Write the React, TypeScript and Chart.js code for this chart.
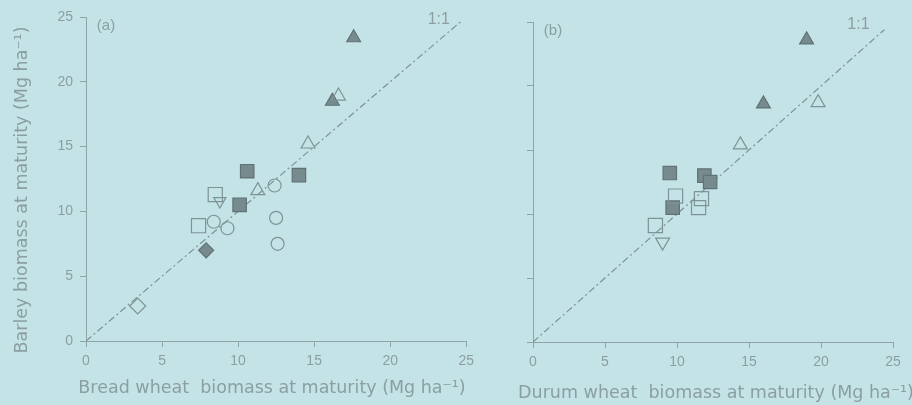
import React, { useEffect, useRef } from "react";
import { Chart, registerables } from "chart.js";
Chart.register(...registerables);

// ---------- data ----------
const AXIS_MIN = 0;
const AXIS_MAX = 25;
const AXIS_STEP = 5;

// Panel (a): bread wheat vs barley
const A_filledTriX = [17.6, 16.2];
const A_filledTriY = [23.4, 18.5];
const A_openTriX = [16.6, 14.6, 11.3];
const A_openTriY = [18.9, 15.2, 11.6];
const A_filledSqX = [10.6, 14.0, 10.1];
const A_filledSqY = [13.1, 12.8, 10.5];
const A_openSqX = [8.5, 7.4];
const A_openSqY = [11.3, 8.9];
const A_openDownTriX = [8.8];
const A_openDownTriY = [10.8];
const A_openCircX = [12.4, 8.4, 9.3, 12.5, 12.6];
const A_openCircY = [12.0, 9.2, 8.7, 9.5, 7.5];
const A_filledDiamX = [7.9];
const A_filledDiamY = [7.0];
const A_openDiamX = [3.4];
const A_openDiamY = [2.7];
const A_lineX = [0, 24.7];
const A_lineY = [0, 24.7];

// Panel (b): durum wheat vs barley
const B_filledTriX = [19.0, 16.0];
const B_filledTriY = [23.6, 18.6];
const B_openTriX = [19.8, 14.4];
const B_openTriY = [18.7, 15.4];
const B_filledSqX = [9.5, 11.9, 12.3, 9.7];
const B_filledSqY = [13.2, 13.0, 12.5, 10.5];
const B_openSqX = [9.9, 11.7, 11.5, 8.5];
const B_openSqY = [11.4, 11.2, 10.5, 9.1];
const B_openDownTriX = [9.0];
const B_openDownTriY = [7.8];
const B_lineX = [0, 24.4];
const B_lineY = [0, 24.4];

const Y_TITLE = "Barley biomass at maturity (Mg ha\u207B\u00B9)";
const A_X_TITLE = "Bread wheat  biomass at maturity (Mg ha\u207B\u00B9)";
const B_X_TITLE = "Durum wheat  biomass at maturity (Mg ha\u207B\u00B9)";

// ---------- styles ----------
const BG = "#c4e3e7";
const TEXT = "#8b9fa3";
const AXIS = "#8ea4a8";
const FILL = "#778b8f";
const FILL_BORDER = "#5f7276";
const OPEN = "#7e9397";
const FONT = "'Liberation Sans', Arial, sans-serif";
const TITLE_FONT = "'DejaVu Sans', sans-serif";

const pts = (xs: number[], ys: number[]) => xs.map((x, i) => ({ x, y: ys[i] }));

type Marker = {
  xs: number[];
  ys: number[];
  style: string;
  filled: boolean;
  r: number;
  rot?: number;
};

function makeDatasets(markers: Marker[], lx: number[], ly: number[]) {
  const ds: any[] = [
    {
      type: "line",
      data: pts(lx, ly),
      borderColor: "#7d9296",
      borderWidth: 1.2,
      borderDash: [7, 3, 2, 3],
      pointRadius: 0,
      fill: false,
      order: 10,
    },
  ];
  markers.forEach((m) => {
    ds.push({
      type: "scatter",
      data: pts(m.xs, m.ys),
      pointStyle: m.style,
      pointRadius: m.r,
      pointRotation: m.rot || 0,
      backgroundColor: m.filled ? FILL : "rgba(0,0,0,0)",
      borderColor: m.filled ? FILL_BORDER : OPEN,
      borderWidth: 1.2,
      order: 1,
    });
  });
  return ds;
}

function textPlugin(kind: "a" | "b") {
  return {
    id: "texts" + kind,
    afterDraw(chart: any) {
      const { ctx, chartArea, scales } = chart;
      const x = scales.x;
      const y = scales.y;
      ctx.save();
      ctx.fillStyle = TEXT;
      ctx.textAlign = "center";
      ctx.textBaseline = "middle";
      // panel label
      ctx.font = `15px ${FONT}`;
      ctx.fillText(kind === "a" ? "(a)" : "(b)", chartArea.left + 20, chartArea.top + 9);
      // 1:1 label
      ctx.font = `16px ${FONT}`;
      ctx.fillText("1:1", x.getPixelForValue(kind === "a" ? 23.2 : 22.6), y.getPixelForValue(24.8));
      // x title
      ctx.font = `17.5px ${TITLE_FONT}`;
      ctx.fillText(
        kind === "a" ? A_X_TITLE : B_X_TITLE,
        kind === "a" ? 272 - 0 : 716 - 480,
        chartArea.bottom + (kind === "a" ? 47 : 51)
      );
      if (kind === "a") {
        ctx.translate(22, 190);
        ctx.rotate(-Math.PI / 2);
        ctx.fillText(Y_TITLE, 0, 0);
      }
      ctx.restore();
    },
  };
}

function makeConfig(kind: "a" | "b"): any {
  const isA = kind === "a";
  const markers: Marker[] = isA
    ? [
        { xs: A_openCircX, ys: A_openCircY, style: "circle", filled: false, r: 6.5 },
        { xs: A_openSqX, ys: A_openSqY, style: "rect", filled: false, r: 10 },
        { xs: A_openDownTriX, ys: A_openDownTriY, style: "triangle", filled: false, r: 7, rot: 180 },
        { xs: A_openTriX, ys: A_openTriY, style: "triangle", filled: false, r: 8 },
        { xs: A_openDiamX, ys: A_openDiamY, style: "rectRot", filled: false, r: 8 },
        { xs: A_filledSqX, ys: A_filledSqY, style: "rect", filled: true, r: 9.5 },
        { xs: A_filledTriX, ys: A_filledTriY, style: "triangle", filled: true, r: 8 },
        { xs: A_filledDiamX, ys: A_filledDiamY, style: "rectRot", filled: true, r: 7.5 },
      ]
    : [
        { xs: B_openSqX, ys: B_openSqY, style: "rect", filled: false, r: 10 },
        { xs: B_openDownTriX, ys: B_openDownTriY, style: "triangle", filled: false, r: 8, rot: 180 },
        { xs: B_openTriX, ys: B_openTriY, style: "triangle", filled: false, r: 8 },
        { xs: B_filledSqX, ys: B_filledSqY, style: "rect", filled: true, r: 9.5 },
        { xs: B_filledTriX, ys: B_filledTriY, style: "triangle", filled: true, r: 8 },
      ];

  const axisCommon = {
    type: "linear",
    min: AXIS_MIN,
    max: AXIS_MAX,
    grid: {
      display: true,
      drawOnChartArea: false,
      drawTicks: true,
      tickLength: 6,
      tickColor: AXIS,
      color: AXIS,
    },
    border: { display: true, color: AXIS, width: 1 },
    title: { display: false },
  };

  return {
    type: "scatter",
    data: { datasets: makeDatasets(markers, isA ? A_lineX : B_lineX, isA ? A_lineY : B_lineY) },
    options: {
      responsive: false,
      animation: false,
      events: [],
      layout: {
        padding: isA
          ? { left: 0, right: 9, top: 17, bottom: 0 }
          : { left: 0, right: 19, top: 22, bottom: 0 },
      },
      plugins: {
        legend: { display: false },
        tooltip: { enabled: false },
      },
      scales: {
        x: {
          ...axisCommon,
          position: "bottom",
          ticks: {
            stepSize: AXIS_STEP,
            color: TEXT,
            font: { family: FONT, size: 14 },
            padding: 6,
            maxRotation: 0,
          },
          afterFit: (s: any) => {
            s.height = isA ? 64 : 63;
          },
        },
        y: {
          ...axisCommon,
          position: "left",
          ticks: {
            stepSize: AXIS_STEP,
            color: TEXT,
            font: { family: FONT, size: 14 },
            padding: 7,
            callback: (v: any) => (isA ? String(v) : ""),
          },
          afterFit: (s: any) => {
            s.width = isA ? 86 : 53;
          },
        },
      },
    },
    plugins: [textPlugin(kind)],
  };
}

function Panel({ kind, left, width }: { kind: "a" | "b"; left: number; width: number }) {
  const ref = useRef<HTMLCanvasElement | null>(null);
  useEffect(() => {
    if (!ref.current) return;
    const chart = new Chart(ref.current, makeConfig(kind));
    return () => chart.destroy();
  }, [kind]);
  return (
    <canvas
      ref={ref}
      width={width}
      height={405}
      style={{ position: "absolute", left, top: 0, width, height: 405 }}
    />
  );
}

export default function App() {
  useEffect(() => {
    document.body.style.margin = "0";
    document.body.style.background = BG;
  }, []);
  return (
    <div
      style={{
        position: "absolute",
        left: 0,
        top: 0,
        width: 912,
        height: 405,
        background: BG,
        overflow: "hidden",
      }}
    >
      <Panel kind="a" left={0} width={480} />
      <Panel kind="b" left={480} width={432} />
    </div>
  );
}
